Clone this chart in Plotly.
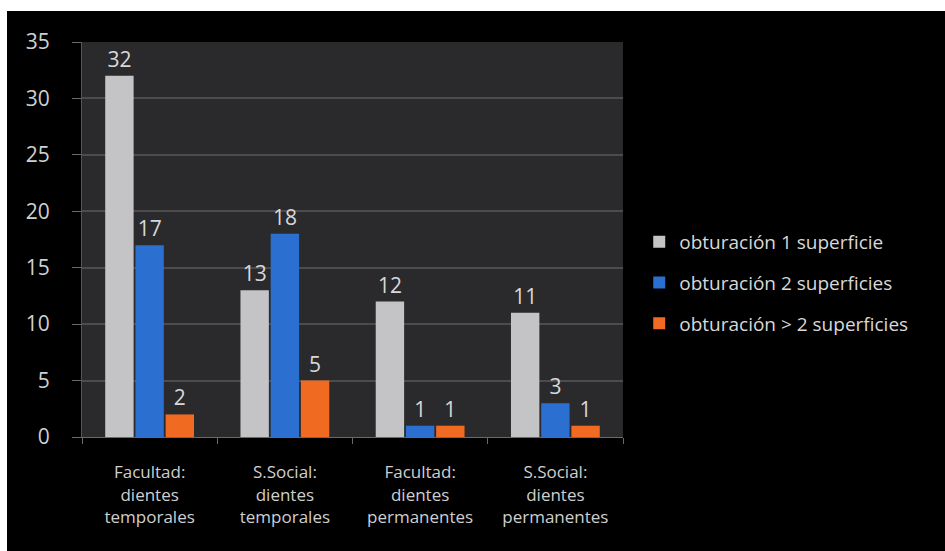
import plotly.graph_objects as go

# Categories (multi-line axis labels)
categories = [
    "Facultad:<br>dientes<br>temporales",
    "S.Social:<br>dientes<br>temporales",
    "Facultad:<br>dientes<br>permanentes",
    "S.Social:<br>dientes<br>permanentes",
]

# Series values
obt_1 = [32, 13, 12, 11]
obt_2 = [17, 18, 1, 3]
obt_3 = [2, 5, 1, 1]

series_names = [
    "obturación 1 superficie",
    "obturación 2 superficies",
    "obturación > 2 superficies",
]
series_colors = ["#c4c4c6", "#2b6fd0", "#f06a22"]

y_ticks = [0, 5, 10, 15, 20, 25, 30, 35]

FONT = "'Open Sans', Lato, sans-serif"
TXT = "#d8d8d8"

fig = go.Figure()
for i, (name, vals, col) in enumerate(zip(series_names, [obt_1, obt_2, obt_3], series_colors)):
    fig.add_trace(go.Bar(
        x=categories, y=vals, name=name,
        marker=dict(color=col, line=dict(width=0)),
        text=vals, textposition="outside", cliponaxis=False,
        textfont=dict(color=TXT, size=21, family=FONT),
        legendgroup=f"g{i}",
    ))

W, H = 945, 551
L, R, T, B = 82, 322, 42, 114
PW, PH = W - L - R, H - T - B

fig.update_layout(
    width=W, height=H,
    margin=dict(l=L, r=R, t=T, b=B),
    paper_bgcolor="#000000",
    plot_bgcolor="#2a2a2c",
    barmode="group", bargap=0.33, bargroupgap=0.06,
    font=dict(family=FONT, color=TXT),
    showlegend=True,
    legend=dict(
        x=1.03, y=0.39, xanchor="left", yanchor="middle",
        font=dict(size=19, color=TXT, family=FONT),
        bgcolor="rgba(0,0,0,0)", traceorder="grouped", tracegroupgap=13,
        itemwidth=30,
    ),
    xaxis=dict(
        showgrid=False, showline=True, linecolor="#6a6a6a", linewidth=1,
        ticks="outside", tickson="boundaries", ticklen=6, tickcolor="#6a6a6a",
        tickfont=dict(size=17, color="#cfcfcf", family=FONT),
        ticklabelstandoff=20,
    ),
    yaxis=dict(
        range=[0, 35], tickvals=y_ticks, showgrid=True,
        gridcolor="#4c4c4e", gridwidth=2, zeroline=False,
        showline=True, linecolor="#555", ticks="outside", ticklen=9,
        tickcolor="#6a6a6a", tickfont=dict(size=21, color="#d0d0d0", family=FONT),
        ticklabelstandoff=18,
    ),
    shapes=[
        # white strips along the top and left of the canvas
        dict(type="rect", xref="paper", yref="paper",
             x0=-L / PW, x1=(W - L) / PW, y0=1 + (T - 11) / PH, y1=1 + (T + 3) / PH,
             fillcolor="white", line=dict(width=0), layer="above"),
        dict(type="rect", xref="paper", yref="paper",
             x0=-L / PW, x1=(7 - L) / PW, y0=-(B + 5) / PH, y1=1 + (T + 3) / PH,
             fillcolor="white", line=dict(width=0), layer="above"),
    ],
)

fig.write_html("out.html")
